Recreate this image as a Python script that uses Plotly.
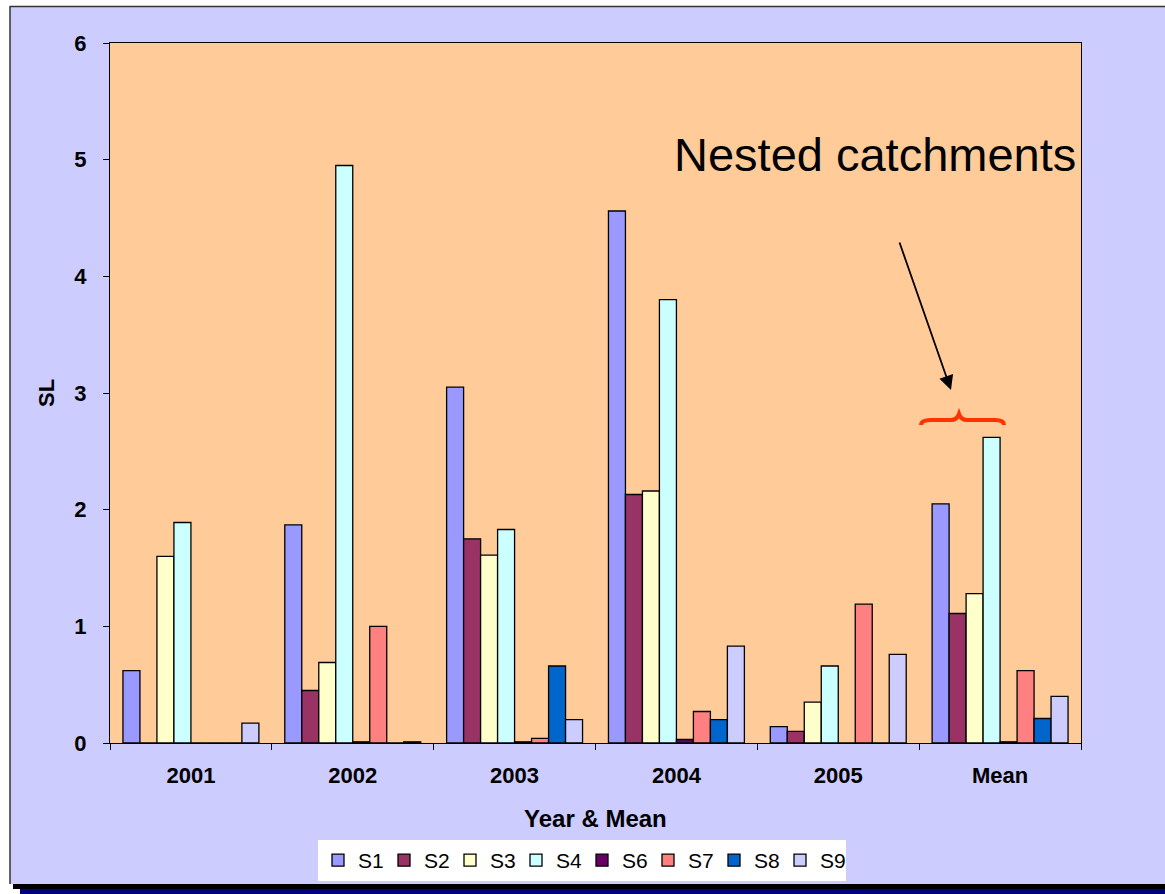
import plotly.graph_objects as go

# Categories and series
categories = ["2001", "2002", "2003", "2004", "2005", "Mean"]
series_names = ["S1", "S2", "S3", "S4", "S6", "S7", "S8", "S9"]
s1 = [0.62, 1.87, 3.05, 4.56, 0.14, 2.05]
s2 = [0.00, 0.45, 1.75, 2.13, 0.10, 1.11]
s3 = [1.60, 0.69, 1.61, 2.16, 0.35, 1.28]
s4 = [1.89, 4.95, 1.83, 3.80, 0.66, 2.62]
s6 = [0.00, 0.01, 0.01, 0.03, 0.00, 0.01]
s7 = [0.00, 1.00, 0.04, 0.27, 1.19, 0.62]
s8 = [0.00, 0.00, 0.66, 0.20, 0.00, 0.21]
s9 = [0.17, 0.01, 0.20, 0.83, 0.76, 0.40]
series_values = [s1, s2, s3, s4, s6, s7, s8, s9]
series_colors = ["#9999FF", "#993366", "#FFFFCC", "#CCFFFF",
                 "#660066", "#FF8080", "#0066CC", "#CCCCFF"]
y_ticks = [0, 1, 2, 3, 4, 5, 6]

W, H = 1165, 894
L, R, T, B = 110, 1081, 43, 743  # plot area in pixels

def px(x):
    return (x - L) / (R - L)

def py(y):
    return (B - y) / (B - T)

FONT = "Liberation Sans, Arial, sans-serif"

fig = go.Figure()
for name, vals, col in zip(series_names, series_values, series_colors):
    fig.add_trace(go.Bar(
        name=name, x=categories, y=vals,
        marker=dict(color=col, line=dict(color="black", width=1.3)),
    ))

shapes = [
    # white strips outside the chart frame
    dict(type="rect", xref="paper", yref="paper", x0=px(0), x1=px(W), y0=py(0), y1=py(6),
         fillcolor="white", line_width=0, layer="below"),
    dict(type="rect", xref="paper", yref="paper", x0=px(0), x1=px(10), y0=py(0), y1=py(H),
         fillcolor="white", line_width=0, layer="below"),
    # frame edges
    dict(type="line", xref="paper", yref="paper", x0=px(10), x1=px(W), y0=py(6.5), y1=py(6.5),
         line=dict(color="#333333", width=1.5), layer="below"),
    dict(type="line", xref="paper", yref="paper", x0=px(10), x1=px(10), y0=py(6), y1=py(884),
         line=dict(color="#333333", width=1.5), layer="below"),
    # drop shadow along the bottom
    dict(type="rect", xref="paper", yref="paper", x0=px(0), x1=px(W), y0=py(884), y1=py(H),
         fillcolor="white", line_width=0, layer="below"),
    dict(type="rect", xref="paper", yref="paper", x0=px(13), x1=px(W), y0=py(884), y1=py(889),
         fillcolor="black", line_width=0, layer="below"),
    dict(type="rect", xref="paper", yref="paper", x0=px(20), x1=px(W), y0=py(889), y1=py(H),
         fillcolor="#000080", line_width=0, layer="below"),
]

# red brace over the nested catchments
brace = [(921, 425), (921, 420), (931, 420), (951, 420), (957, 420), (959, 414),
         (961, 420), (967, 420), (995, 420), (1004, 420), (1004, 425)]
b = [(px(x), py(y)) for x, y in brace]
brace_path = ("M {0[0]},{0[1]} Q {1[0]},{1[1]} {2[0]},{2[1]} L {3[0]},{3[1]} "
              "Q {4[0]},{4[1]} {5[0]},{5[1]} Q {6[0]},{6[1]} {7[0]},{7[1]} "
              "L {8[0]},{8[1]} Q {9[0]},{9[1]} {10[0]},{10[1]}").format(*b)
shapes.append(dict(type="path", xref="paper", yref="paper", path=brace_path,
                   line=dict(color="#FF3300", width=4), layer="above"))

annotations = [
    dict(text="Nested catchments", xref="paper", yref="paper", x=px(672), y=py(154),
         xanchor="left", yanchor="middle", showarrow=False,
         font=dict(family=FONT, size=47, color="black")),
    dict(text="", xref="paper", yref="paper", x=px(951), y=py(390),
         ax=-52, ay=-149, showarrow=True, arrowhead=2, arrowsize=1.6,
         arrowwidth=1.8, arrowcolor="black"),
    dict(text="<b>Year & Mean</b>", xref="paper", yref="paper", x=px(595), y=py(818),
         xanchor="center", yanchor="middle", showarrow=False,
         font=dict(family=FONT, size=24, color="black")),
    dict(text="<b>SL</b>", xref="paper", yref="paper", x=px(46), y=py(393),
         xanchor="center", yanchor="middle", showarrow=False, textangle=-90,
         font=dict(family=FONT, size=22, color="black")),
]

fig.update_layout(
    width=W, height=H,
    margin=dict(l=L, r=W - R, t=T, b=H - B, pad=0),
    paper_bgcolor="#CCCCFF",
    plot_bgcolor="#FFCC99",
    barmode="group", bargap=0.16, bargroupgap=0,
    font=dict(family=FONT, color="black"),
    shapes=shapes,
    annotations=annotations,
    showlegend=True,
    legend=dict(orientation="h", x=px(582), xanchor="center", y=py(840), yanchor="top",
                bgcolor="white", borderwidth=0, font=dict(family=FONT, size=21),
                itemwidth=30, entrywidth=21, tracegroupgap=0),
)
fig.update_xaxes(
    type="category", showline=True, linecolor="black", linewidth=1.2, mirror=True,
    ticks="outside", tickson="boundaries", ticklen=6, tickcolor="black",
    tickfont=dict(family=FONT, size=22), ticklabelstandoff=12,
    tickvals=categories, ticktext=["<b>%s</b>" % c for c in categories],
    showgrid=False,
)
fig.update_yaxes(
    range=[0, 6], tickvals=y_ticks, ticktext=["<b>%d</b>" % v for v in y_ticks],
    showline=True, linecolor="black", linewidth=1.2, mirror=True,
    ticks="outside", ticklen=6, tickcolor="black", ticklabelstandoff=12,
    tickfont=dict(family=FONT, size=22), showgrid=False, zeroline=False,
)

fig.write_html("out.html")
